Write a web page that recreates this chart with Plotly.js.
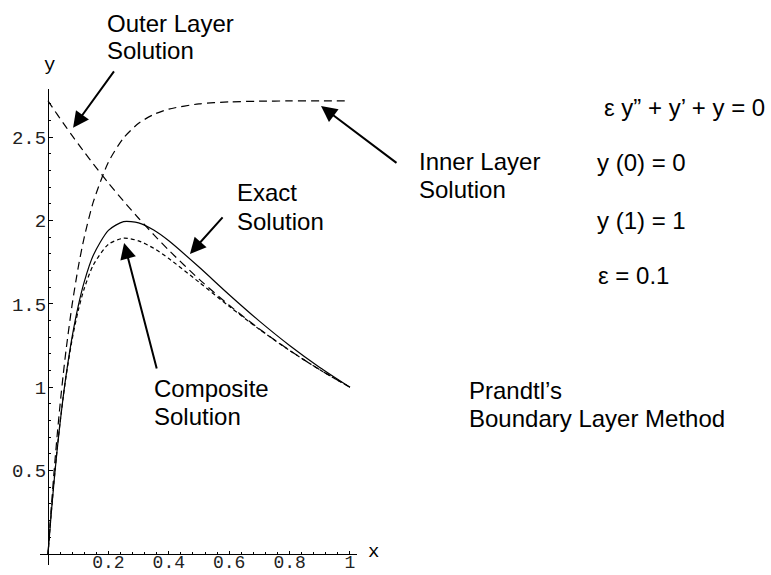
<!DOCTYPE html>
<html>
<head>
<meta charset="utf-8">
<script src="https://cdn.plot.ly/plotly-3.0.1.min.js"></script>
<style>
  html, body { margin: 0; padding: 0; background: #fff; }
  #plot { width: 771px; height: 575px; }
</style>
</head>
<body>
<div id="plot"></div>
<script>
// values (eps = 0.1)
const xs        = [0, 0.01, 0.02, 0.03, 0.04, 0.05, 0.06, 0.08, 0.1, 0.12, 0.15, 0.2, 0.25, 0.3, 0.35, 0.4, 0.5, 0.6, 0.7, 0.8, 0.9, 1];
const exact     = [0, 0.2276, 0.4333, 0.6190, 0.7864, 0.9372, 1.0727, 1.3033, 1.4872, 1.6324, 1.7916, 1.9411, 1.9937, 1.9864, 1.9430, 1.8785, 1.7211, 1.5552, 1.3967, 1.2508, 1.1187, 1];
const composite = [0, 0.2316, 0.4389, 0.6242, 0.7896, 0.9370, 1.0682, 1.2879, 1.4596, 1.5922, 1.7331, 1.8577, 1.8939, 1.8784, 1.8335, 1.7723, 1.6304, 1.4851, 1.3474, 1.2205, 1.1048, 0.9999];
const inner     = [0, 0.2587, 0.4927, 0.7045, 0.8962, 1.0696, 1.2265, 1.4969, 1.7183, 1.8995, 2.1118, 2.3504, 2.4952, 2.5830, 2.6362, 2.6685, 2.7000, 2.7115, 2.7158, 2.7174, 2.7182, 2.7182];
const outer     = [2.7183, 2.6912, 2.6645, 2.6379, 2.6117, 2.5857, 2.5600, 2.5093, 2.4596, 2.4109, 2.3397, 2.2255, 2.1170, 2.0138, 1.9155, 1.8221, 1.6487, 1.4918, 1.3499, 1.2214, 1.1052, 1];

const xTicks = [0.2, 0.4, 0.6, 0.8, 1];
const xTickText = ['0.2', '0.4', '0.6', '0.8', '1'];
const yTicks = [0.5, 1, 1.5, 2, 2.5];
const yTickText = ['0.5', '1', '1.5', '2', '2.5'];

const W = 771, H = 575;
const SANS = 'Liberation Sans, Arial, Helvetica, sans-serif';
const MONO = 'Liberation Mono, Courier New, monospace';

// pixel -> paper
function px(x) { return x / W; }
function py(y) { return 1 - y / H; }

function curve(y, dash) {
    return {
        x: xs, y: y, mode: 'lines', hoverinfo: 'skip',
        line: { color: '#000', width: 1.2, dash: dash, shape: 'spline', smoothing: 0.7 }
    };
}

function label(text, x, y, size, font) {
    return {
        text: text, xref: 'paper', yref: 'paper', x: px(x), y: py(y),
        xanchor: 'left', yanchor: 'middle', showarrow: false,
        font: { family: font || SANS, size: size || 24, color: '#000' }
    };
}

function arrow(x, y, ax, ay) {
    // head at data point, tail given as pixel offset
    return {
        text: '', xref: 'x', yref: 'y', x: x, y: y, ax: ax, ay: ay,
        showarrow: true, arrowhead: 2, arrowsize: 1.6, arrowwidth: 2,
        arrowcolor: '#000', standoff: 0
    };
}

let traces = [
    curve(exact, 'solid'),
    curve(composite, '4px,3px'),
    curve(inner, '8px,5px'),
    curve(outer, '8px,5px')
];

let annotations = [
    label('Outer Layer', 105, 23),
    label('Solution', 105, 50.5),
    label('Exact', 235, 192.5),
    label('Solution', 235, 221),
    label('Inner Layer', 417, 161.5),
    label('Solution', 417, 189),
    label('Composite', 152, 388.5),
    label('Solution', 152, 416),
    label('Prandtl\u2019s', 467, 390.5),
    label('Boundary Layer Method', 467, 418.5),
    label('\u03b5 y\u201d + y\u2019 + y = 0', 602, 107.5),
    label('y (0) = 0', 595, 163),
    label('y (1) = 1', 595, 220),
    label('\u03b5 = 0.1', 596, 275.5),
    label('x', 366, 552, 19, MONO),
    label('y', 42, 65, 19, MONO),
    arrow(0.083, 2.556, 42, -58),
    arrow(0.470, 1.80, 34, -38),
    arrow(0.904, 2.687, 77, 58),
    arrow(0.252, 1.866, 33, 127)
];

let layout = {
    width: W, height: H,
    margin: { l: 0, r: 0, t: 0, b: 0, pad: 0 },
    paper_bgcolor: '#fff', plot_bgcolor: 'rgba(0,0,0,0)',
    showlegend: false,
    xaxis: {
        domain: [40 / W, 357 / W], range: [-0.0265, 1.0232],
        anchor: 'free', position: (H - 554) / H,
        showline: true, linecolor: '#000', linewidth: 1,
        showgrid: false, zeroline: false, automargin: false,
        ticks: 'inside', ticklen: 3, tickwidth: 1, tickcolor: '#000',
        tickvals: xTicks, ticktext: xTickText, ticklabelstandoff: -9,
        tickfont: { family: MONO, size: 18, color: '#222' },
        minor: { tick0: 0, dtick: 0.04, ticks: 'inside', ticklen: 2, tickcolor: '#000', showgrid: false },
        fixedrange: true
    },
    yaxis: {
        domain: [(H - 565) / H, (H - 89) / H], range: [-0.066, 2.789],
        anchor: 'free', position: 48 / W,
        showline: true, linecolor: '#000', linewidth: 1,
        showgrid: false, zeroline: false, automargin: false,
        ticks: 'inside', ticklen: 4, tickwidth: 1, tickcolor: '#000',
        tickvals: yTicks, ticktext: yTickText, ticklabelstandoff: -2,
        tickfont: { family: MONO, size: 19, color: '#222' },
        minor: { tick0: 0, dtick: 0.1, ticks: 'inside', ticklen: 2, tickcolor: '#000', showgrid: false },
        fixedrange: true
    },
    annotations: annotations
};

Plotly.newPlot(document.querySelector('#plot'), traces, layout, { staticPlot: true, displayModeBar: false });
</script>
</body>
</html>
